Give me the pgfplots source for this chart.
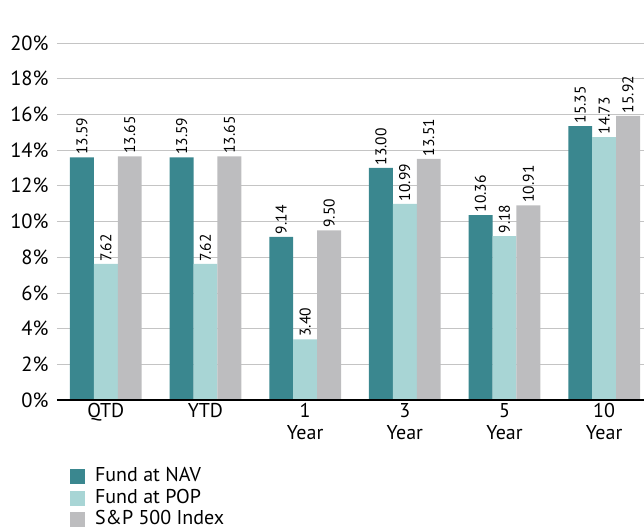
\documentclass[border=0pt]{standalone}
\usepackage{fontspec}
\setmainfont{PT Sans}
\usepackage{pgfplots}
\pgfplotsset{compat=1.18}
\definecolor{nav}{HTML}{3A878F}
\definecolor{pop}{HTML}{A8D5D5}
\definecolor{spx}{HTML}{BDBDBF}
\definecolor{gridc}{HTML}{C4C4C4}
\begin{document}
\begin{tikzpicture}
\begin{axis}[
  at={(0,0)}, anchor=south west,
  scale only axis, width=587pt, height=357pt,
  ybar=0pt, bar width=0.24,
  xmin=-0.49, xmax=5.40, ymin=0, ymax=20,
  enlargelimits=false,
  axis line style={draw=none},
  major tick length=0pt,
  ymajorgrids, grid style={gridc, line width=0.8pt},
  ytick={0,2,...,20},
  yticklabels={0\%,2\%,4\%,6\%,8\%,10\%,12\%,14\%,16\%,18\%,20\%},
  yticklabel style={font=\fontsize{20.5}{22}\selectfont, xshift=-5pt},
  xtick={0,1,2,3,4,5},
  xticklabels={QTD,YTD,1\\Year,3\\Year,5\\Year,10\\Year},
  xticklabel style={font=\fontsize{20}{21.5}\selectfont, align=center, anchor=north, yshift=0pt},
  /pgf/number format/assume math mode=true,
  nodes near coords={\pgfmathprintnumber[fixed,fixed zerofill,precision=2]{\pgfplotspointmeta}},
  nodes near coords style={rotate=90, anchor=west, font=\fontsize{15.5}{15.5}\selectfont, inner sep=2.5pt},
  legend style={at={(0.022,-0.187)}, anchor=north west, draw=none, fill=none,
    font=\fontsize{20}{20}\selectfont, row sep=1.5pt, inner sep=0pt,
    nodes={inner sep=1pt, text height=14pt, text depth=4pt},
    /tikz/every odd column/.append style={column sep=9pt}},
  legend cell align=left,
]
\addplot[fill=nav, draw=none, bar shift=-0.24, legend image code/.code={\fill[nav] (0pt,-7.5pt) rectangle (15pt,7.5pt);}] coordinates {(0,13.59) (1,13.59) (2,9.14) (3,13.00) (4,10.36) (5,15.35)};
\addplot[fill=pop, draw=none, bar shift=0, legend image code/.code={\fill[pop] (0pt,-7.5pt) rectangle (15pt,7.5pt);}] coordinates {(0,7.62) (1,7.62) (2,3.40) (3,10.99) (4,9.18) (5,14.73)};
\addplot[fill=spx, draw=none, bar shift=0.24, legend image code/.code={\fill[spx] (0pt,-7.5pt) rectangle (15pt,7.5pt);}] coordinates {(0,13.65) (1,13.65) (2,9.50) (3,13.51) (4,10.91) (5,15.92)};
\legend{Fund at NAV, Fund at POP, S\&P 500 Index}
\draw[black, line width=1.6pt] (rel axis cs:0,0) -- (rel axis cs:1,0);
\end{axis}
\pgfresetboundingbox
\path[use as bounding box] (-57pt,-131pt) rectangle (587pt,400pt);
\end{tikzpicture}
\end{document}
